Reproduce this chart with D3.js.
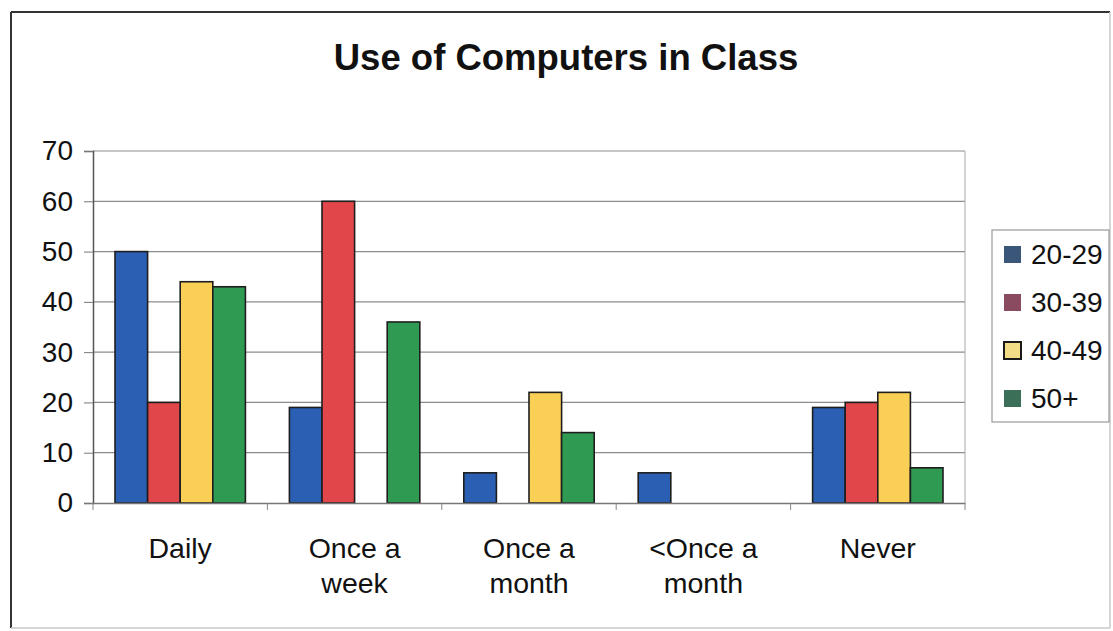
<!DOCTYPE html>
<html>
<head>
<meta charset="utf-8">
<script src="https://cdn.jsdelivr.net/npm/d3@7"></script>
<style>
  html, body { margin: 0; padding: 0; background: #fff; }
  svg { display: block; font-family: "Liberation Sans", Arial, sans-serif; }
</style>
</head>
<body>
<svg id="chart" width="1113" height="631"></svg>
<script>
// ---- data ----
const title = "Use of Computers in Class";
const categories = ["Daily", "Once a week", "Once a month", "<Once a month", "Never"];
const categoryLines = [["Daily"], ["Once a", "week"], ["Once a", "month"], ["<Once a", "month"], ["Never"]];
const seriesNames = ["20-29", "30-39", "40-49", "50+"];
const s2029 = [50, 19, 6, 6, 19];
const s3039 = [20, 60, 0, 0, 20];
const s4049 = [44, 0, 22, 0, 22];
const s50p  = [43, 36, 14, 0, 7];
const yTicks = [0, 10, 20, 30, 40, 50, 60, 70];

// ---- styles ----
const barColors = ["#2b5fb3", "#e0464a", "#f9cf55", "#2f9a52"];
const legendColors = ["#3a5678", "#8a4a60", "#f2dc86", "#3c6f58"];
const legendStroke = ["none", "none", "#1a1a1a", "none"];

const seriesValues = [s2029, s3039, s4049, s50p];
const rows = categories.map((c, i) => ({
  cat: c,
  lines: categoryLines[i],
  vals: seriesNames.map((s, j) => ({ key: s, v: seriesValues[j][i], j }))
}));

const svg = d3.select("#chart");

// outer frame
const frame = svg.append("g");
frame.append("line").attr("x1", 11).attr("x2", 1110).attr("y1", 12).attr("y2", 12)
  .attr("stroke", "#333").attr("stroke-width", 2);
frame.append("line").attr("x1", 11).attr("x2", 11).attr("y1", 12).attr("y2", 628)
  .attr("stroke", "#333").attr("stroke-width", 2);
frame.append("line").attr("x1", 11).attr("x2", 1110).attr("y1", 628).attr("y2", 628)
  .attr("stroke", "#c8c8c8").attr("stroke-width", 1.5);
frame.append("line").attr("x1", 1110).attr("x2", 1110).attr("y1", 12).attr("y2", 628)
  .attr("stroke", "#c8c8c8").attr("stroke-width", 1.5);

// title
svg.append("text")
  .attr("x", 566).attr("y", 70)
  .attr("text-anchor", "middle")
  .attr("font-size", 36.5).attr("font-weight", "bold").attr("fill", "#111")
  .text(title);

const plotL = 93, plotR = 965, plotT = 151, plotB = 503;

const x0 = d3.scaleBand().domain(categories).range([plotL, plotR]).padding(0);
const x1 = d3.scaleBand().domain(seriesNames).range([0, x0.bandwidth()])
  .paddingInner(0).paddingOuter(0.675);
const y = d3.scaleLinear().domain([0, 70]).range([plotB, plotT]);

// gridlines
svg.append("g").selectAll("line")
  .data(yTicks.filter(t => t > 0))
  .join("line")
  .attr("x1", plotL).attr("x2", plotR)
  .attr("y1", d => y(d)).attr("y2", d => y(d))
  .attr("stroke", "#8c8c8c").attr("stroke-width", 1.2);

// right plot border
svg.append("line")
  .attr("x1", plotR).attr("x2", plotR).attr("y1", plotT).attr("y2", plotB)
  .attr("stroke", "#aaa").attr("stroke-width", 1);

// bars
const groups = svg.append("g").selectAll("g")
  .data(rows).join("g")
  .attr("transform", d => `translate(${x0(d.cat)},0)`);

groups.selectAll("rect")
  .data(d => d.vals.filter(v => v.v > 0))
  .join("rect")
  .attr("x", d => x1(d.key))
  .attr("y", d => y(d.v))
  .attr("width", x1.bandwidth())
  .attr("height", d => y(0) - y(d.v))
  .attr("fill", d => barColors[d.j])
  .attr("stroke", "#1e1e1e").attr("stroke-width", 1.6);

// y axis
const yAxis = d3.axisLeft(y).tickValues(yTicks).tickSize(9).tickPadding(11);
const gy = svg.append("g").attr("transform", `translate(${plotL},0)`).call(yAxis);
gy.select(".domain").attr("stroke", "#555").attr("stroke-width", 1.5);
gy.selectAll(".tick line").attr("stroke", "#777");
gy.selectAll(".tick text")
  .attr("font-size", 28).attr("fill", "#111")
  .attr("font-family", "Liberation Sans, Arial, sans-serif");

// x axis
const xAxis = d3.axisBottom(x0).tickSize(0).tickFormat("");
const gx = svg.append("g").attr("transform", `translate(0,${plotB})`).call(xAxis);
gx.select(".domain").attr("stroke", "#777").attr("stroke-width", 1.5);
gx.selectAll(".tick").remove();
// category boundary ticks
const bounds = categories.map(c => x0(c)).concat([plotR]);
gx.selectAll("line.bt").data(bounds).join("line")
  .attr("class", "bt")
  .attr("x1", d => d).attr("x2", d => d).attr("y1", 0).attr("y2", 7)
  .attr("stroke", "#888").attr("stroke-width", 1);

// category labels
const lab = svg.append("g").selectAll("text")
  .data(rows).join("text")
  .attr("x", d => x0(d.cat) + x0.bandwidth() / 2)
  .attr("y", 558)
  .attr("text-anchor", "middle")
  .attr("font-size", 28.5).attr("fill", "#111");
lab.selectAll("tspan")
  .data(d => d.lines.map((t, i) => ({ t, i, x: x0(d.cat) + x0.bandwidth() / 2 })))
  .join("tspan")
  .attr("x", d => d.x)
  .attr("dy", d => d.i === 0 ? 0 : 35)
  .text(d => d.t);

// legend
const lg = svg.append("g");
lg.append("rect")
  .attr("x", 992).attr("y", 230).attr("width", 117).attr("height", 192)
  .attr("fill", "#fff").attr("stroke", "#999").attr("stroke-width", 1.2);
const ly = d3.scalePoint().domain(seriesNames).range([254, 398]);
const items = lg.selectAll("g.item").data(seriesNames).join("g").attr("class", "item");
items.append("rect")
  .attr("x", 1004).attr("y", d => ly(d) - 8)
  .attr("width", 17).attr("height", 17)
  .attr("fill", (d, i) => legendColors[i])
  .attr("stroke", (d, i) => legendStroke[i])
  .attr("stroke-width", 2);
items.append("text")
  .attr("x", 1031).attr("y", d => ly(d) + 10)
  .attr("font-size", 28).attr("fill", "#111")
  .text(d => d);
</script>
</body>
</html>
